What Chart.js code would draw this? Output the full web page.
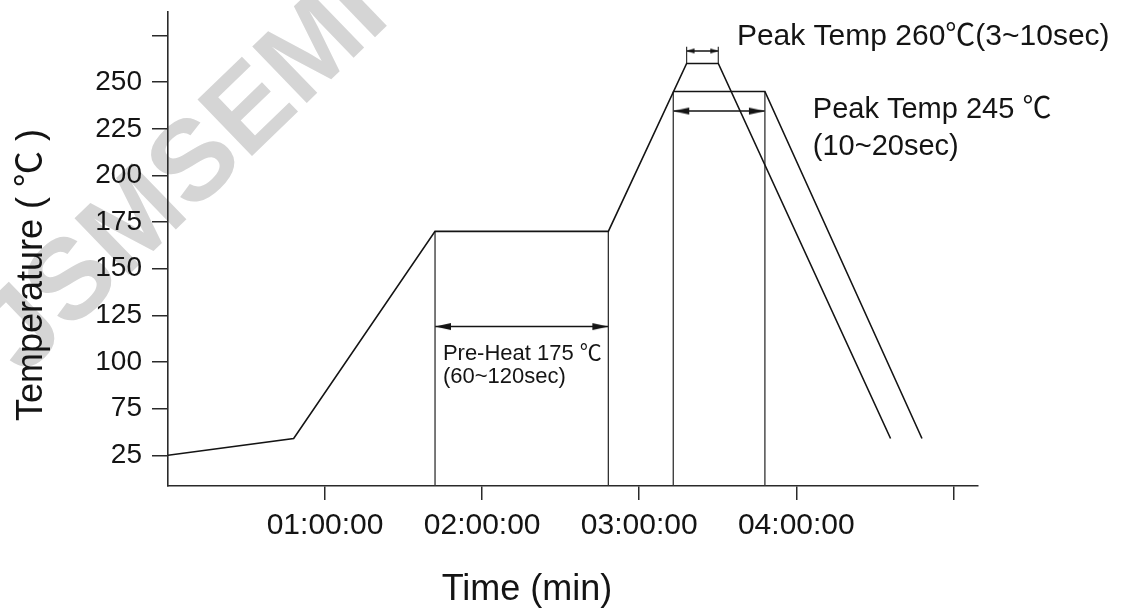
<!DOCTYPE html>
<html><head><meta charset="utf-8">
<script src="https://cdn.jsdelivr.net/npm/chart.js@4"></script>
<style>html,body{margin:0;padding:0;background:#fff}#wrap{width:1136px;height:608px;position:relative}</style>
</head><body><div id="wrap"><canvas id="c"></canvas></div>
<script>
// ---------- data ----------
const timeMin        = [0, 48, 102, 168.2, 198.1, 210.2, 276];
const tempProfile260 = [50, 59, 170, 170, 260, 260, 59];
const timeMin245     = [193, 228, 288];
const tempProfile245 = [245, 245, 59];
const dropTimes      = [102, 168.2, 193, 228];
const dropTemps      = [170, 170, 245, 245];
const preHeatSpan    = [102, 168.2];
const peak245Span    = [193, 228];
const peak260Span    = [198.1, 210.2];
const yTickValues    = [50, 75, 100, 125, 150, 175, 200, 225, 250, 275];
const yTickLabels    = ['25', '75', '100', '125', '150', '175', '200', '225', '250', ''];
const xTickValues    = [60, 120, 180, 240, 300];
const xTickLabels    = ['01:00:00', '02:00:00', '03:00:00', '04:00:00', ''];
const xTitle = 'Time (min)';
const yTitle = 'Temperature ( ℃ )';
const watermarkText = 'JSMSEMI';
const noteTexts = ['Peak Temp 260℃(3~10sec)', 'Peak Temp 245 ℃', '(10~20sec)', 'Pre-Heat 175 ℃', '(60~120sec)'];

// ---------- layout / style config ----------
const FONT = "'Liberation Sans', Arial, 'Noto Sans CJK SC', sans-serif";
const INK = '#141414';
const noteLayout = [
  {t: 217.3, v: 269.8, size: 30},
  {t: 246.3, v: 230.7, size: 29},
  {t: 246.3, v: 210.9, size: 29},
  {t: 105.0, v: 101.1, size: 22},
  {t: 105.0, v: 88.8,  size: 22}
];
const arrowLevels = {pre: 119, p245: 234.5, p260: 266.7, ext260Top: 269};

function arrowHead(len, half) {
  const c = document.createElement('canvas');
  c.width = 2 * len + 2; c.height = 2 * half + 2;
  const g = c.getContext('2d');
  const cx = len + 1, cy = half + 1;
  g.fillStyle = INK;
  g.beginPath(); g.moveTo(cx, cy); g.lineTo(cx - len, cy - half); g.lineTo(cx - len, cy + half); g.closePath(); g.fill();
  return c;
}
const bigHead = arrowHead(16, 3.5);
const smallHead = arrowHead(8, 2.5);

const pts = (xs, ys) => xs.map((x, i) => ({x, y: ys[i]}));
const dropData = [];
dropTimes.forEach((t, i) => { dropData.push({x: t, y: dropTemps[i]}, {x: t, y: 20}, {x: t, y: null}); });
const ext260 = [];
peak260Span.forEach(t => { ext260.push({x: t, y: 260}, {x: t, y: arrowLevels.ext260Top}, {x: t, y: null}); });

const lineBase = {borderColor: INK, borderWidth: 1.6, pointRadius: 0, tension: 0, fill: false, spanGaps: false};
const arrowDs = (span, lvl, head) => ({
  ...lineBase, borderWidth: 1.4,
  data: pts(span, [lvl, lvl]),
  pointStyle: [head, head], pointRotation: [180, 0], pointRadius: 5
});

const notesPlugin = {
  id: 'notes',
  beforeDraw(chart) {
    const ctx = chart.ctx;
    ctx.save();
    ctx.translate(186, 176);
    ctx.rotate(-44 * Math.PI / 180);
    ctx.font = 'bold 114px ' + FONT;
    ctx.fillStyle = '#d5d5d5';
    ctx.textAlign = 'center'; ctx.textBaseline = 'middle';
    ctx.fillText(watermarkText, 0, 0);
    ctx.restore();
  },
  afterDraw(chart) {
    const {ctx, scales: {x, y}} = chart;
    ctx.save();
    ctx.fillStyle = INK;
    ctx.textAlign = 'left'; ctx.textBaseline = 'alphabetic';
    noteTexts.forEach((txt, i) => {
      const n = noteLayout[i];
      ctx.font = n.size + 'px ' + FONT;
      ctx.fillText(txt, x.getPixelForValue(n.t), y.getPixelForValue(n.v));
    });
    ctx.font = '36px ' + FONT;
    ctx.textAlign = 'center';
    ctx.fillText(xTitle, 527, 600);
    ctx.translate(42, 275);
    ctx.rotate(-Math.PI / 2);
    ctx.fillText(yTitle, 0, 0);
    ctx.restore();
  }
};

new Chart(document.getElementById('c'), {
  type: 'line',
  data: {
    datasets: [
      {...lineBase, data: pts(timeMin, tempProfile260)},
      {...lineBase, data: pts(timeMin245, tempProfile245)},
      {...lineBase, borderColor: '#333', borderWidth: 1.3, data: dropData},
      {...lineBase, borderColor: '#333', borderWidth: 1.2, data: ext260},
      arrowDs(preHeatSpan, arrowLevels.pre, bigHead),
      arrowDs(peak245Span, arrowLevels.p245, bigHead),
      arrowDs(peak260Span, arrowLevels.p260, smallHead)
    ]
  },
  options: {
    responsive: true, maintainAspectRatio: false, animation: false, events: [],
    layout: {padding: {left: 0, top: 12, right: 158, bottom: 0}},
    plugins: {legend: {display: false}, tooltip: {enabled: false}},
    scales: {
      x: {
        type: 'linear', min: 0, max: 309.4,
        afterBuildTicks: s => { s.ticks = xTickValues.map(v => ({value: v})); },
        afterFit: s => { s.height = 122; s.paddingLeft = 0; s.paddingRight = 0; },
        border: {display: true, color: '#2a2a2a', width: 1.6},
        grid: {drawOnChartArea: false, drawTicks: true, tickLength: 14, color: '#2a2a2a', lineWidth: 1.5},
        ticks: {
          autoSkip: false, maxRotation: 0, padding: 8, color: INK,
          font: {family: FONT, size: 30},
          callback: v => { const i = xTickValues.indexOf(v); return i < 0 ? '' : xTickLabels[i]; }
        }
      },
      y: {
        type: 'linear', min: 33.55, max: 287.6,
        afterBuildTicks: s => { s.ticks = yTickValues.map(v => ({value: v})); },
        afterFit: s => { s.width = 168; s.paddingTop = 0; s.paddingBottom = 0; },
        border: {display: true, color: '#2a2a2a', width: 1.6},
        grid: {drawOnChartArea: false, drawTicks: true, tickLength: 16, color: '#2a2a2a', lineWidth: 1.5},
        ticks: {
          autoSkip: false, padding: 10, color: INK,
          font: {family: FONT, size: 28},
          callback: v => { const i = yTickValues.indexOf(v); return i < 0 ? '' : yTickLabels[i]; }
        }
      }
    }
  },
  plugins: [notesPlugin]
});
</script>
</body></html>
